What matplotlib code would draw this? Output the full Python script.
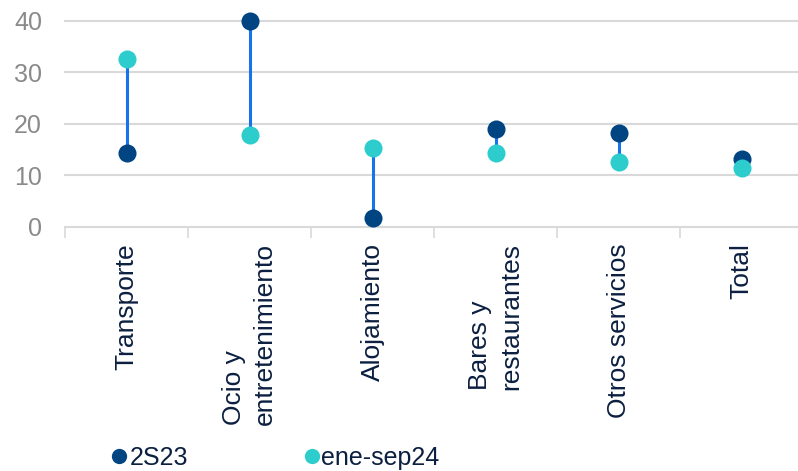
import matplotlib
matplotlib.use("Agg")
import matplotlib.pyplot as plt
import numpy as np
from matplotlib.lines import Line2D

# Categories and series values
categories = ["Transporte", "Ocio y\nentretenimiento", "Alojamiento",
              "Bares y\nrestaurantes", "Otros servicios", "Total"]
s_2s23 = [14.3, 40.0, 1.6, 19.0, 18.2, 13.1]
s_enesep24 = [32.6, 17.8, 15.4, 14.3, 12.5, 11.4]
series_names = ["2S23", "ene-sep24"]
y_ticks = [0, 10, 20, 30, 40]

navy = "#004481"
turq = "#2DCCCD"
link = "#1973E8"
grid_c = "#D9D9D9"
label_c = "#0B1F40"
ytick_c = "#8A8A8A"

plt.rcParams["font.family"] = ["Liberation Sans", "DejaVu Sans"]

fig = plt.figure(figsize=(7.98, 4.71), dpi=100)
W, H = 798, 471
left_px, right_px = 65, 803
top_px, bot_px = 21, 226.7
ax = fig.add_axes([left_px / W, 1 - bot_px / H,
                   (right_px - left_px) / W, (bot_px - top_px) / H])

x = np.arange(len(categories))
ax.set_xlim(-0.5, len(categories) - 0.5)
ax.set_ylim(0, 40)

# horizontal grid
for t in y_ticks:
    ax.axhline(t, color=grid_c, lw=1.5, zorder=0, clip_on=False)

# segment joining the two periods for each category
for xi, a, b in zip(x, s_2s23, s_enesep24):
    ax.plot([xi, xi], [a, b], color=link, lw=2.2, zorder=2, solid_capstyle="butt")

ax.plot(x, s_2s23, "o", color=navy, ms=13, mec="none", zorder=3, clip_on=False)
ax.plot(x, s_enesep24, "o", color=turq, ms=13, mec="none", zorder=4, clip_on=False)

for sp in ax.spines.values():
    sp.set_visible(False)

ax.set_yticks(y_ticks)
ax.set_yticklabels([str(t) for t in y_ticks], fontsize=18, color=ytick_c)
ax.tick_params(axis="y", length=0, pad=16.5)

# category labels at centers, boundary ticks as minor ticks
ax.set_xticks(x)
ax.set_xticklabels(categories, rotation=90, fontsize=19, color=label_c,
                   va="top", ha="center", multialignment="left", linespacing=1.35)
ax.tick_params(axis="x", which="major", length=0, pad=12)
ax.set_xticks(np.arange(len(categories) + 1) - 0.5, minor=True)
ax.tick_params(axis="x", which="minor", length=8, width=1.2, color=grid_c)

# legend
leg_marker_x = [118.7, 311.5]
leg_text_x = [130, 321]
leg_y = 456
for mx, tx, col, name in zip(leg_marker_x, leg_text_x, [navy, turq], series_names):
    fig.add_artist(Line2D([mx / W], [1 - leg_y / H], marker="o", ls="none",
                          color=col, ms=11, mec="none", transform=fig.transFigure))
    fig.text(tx / W, 1 - (leg_y + 2) / H, name, fontsize=18, color=label_c,
             ha="left", va="center")

fig.savefig("out.png", dpi=100)
